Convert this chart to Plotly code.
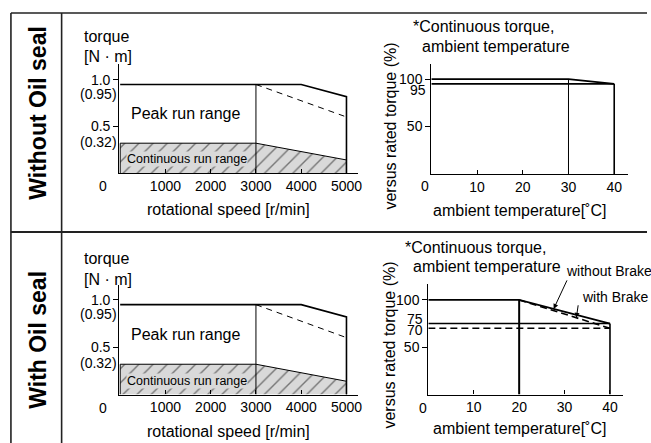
import plotly.graph_objects as go

W, H = 651, 443
FONT = "Liberation Sans, Arial, sans-serif"

# ---- data ----
speed_peak = [0, 4000, 5000, 5000]
torque_peak = [0.95, 0.95, 0.82, 0]
speed_split = [3000, 3000]
torque_split = [0, 0.95]
speed_dash = [3000, 4950]
torque_dash = [0.95, 0.61]
speed_cont = [0, 0, 3000, 5000, 5000]
torque_cont = [0, 0.32, 0.32, 0.14, 0]
speed_ticks = [1000, 2000, 3000, 4000, 5000]
torque_ticks = [1.0, 0.5]
torque_extra = [0.95, 0.32]

# top derating (without oil seal)
temp_top = [0, 30, 40]
pct_top = [100, 100, 95]
temp_top_flat = [0, 40]
pct_top_flat = [95, 95]
# bottom derating (with oil seal)
temp_bot = [0, 20, 40]
pct_bot_nobrake = [100, 100, 75]
pct_bot_brake = [100, 100, 70]
temp_bot_flat = [0, 40]
pct_bot_flat_nobrake = [75, 75]
pct_bot_flat_brake = [70, 70]
temp_ticks = [10, 20, 30, 40]
pct_ticks = [100, 50]

fig = go.Figure()

def px(x):
    return x / W

def py(y):
    return 1 - y / H

def torque_panel(xa, ya):
    k = dict(xaxis=xa, yaxis=ya, mode="lines", showlegend=False, hoverinfo="skip")
    fig.add_trace(go.Scatter(x=speed_cont, y=torque_cont, fill="toself",
                             fillcolor="#d9d9d9",
                             fillpattern=dict(shape="/", fgcolor="#111", bgcolor="#d9d9d9",
                                              size=10, solidity=0.14),
                             line=dict(color="black", width=1), **k))
    fig.add_trace(go.Scatter(x=speed_peak, y=torque_peak, line=dict(color="black", width=1.6), **k))
    fig.add_trace(go.Scatter(x=speed_split, y=torque_split, line=dict(color="black", width=1), **k))
    fig.add_trace(go.Scatter(x=speed_dash, y=torque_dash,
                             line=dict(color="black", width=1, dash="6px,5px"), **k))

def temp_panel_top(xa, ya):
    k = dict(xaxis=xa, yaxis=ya, mode="lines", showlegend=False, hoverinfo="skip")
    fig.add_trace(go.Scatter(x=temp_top, y=pct_top, line=dict(color="black", width=1.6), **k))
    fig.add_trace(go.Scatter(x=temp_top_flat, y=pct_top_flat, line=dict(color="black", width=1.6), **k))
    fig.add_trace(go.Scatter(x=[temp_top[1], temp_top[1]], y=[0, pct_top[1]],
                             line=dict(color="black", width=1), **k))
    fig.add_trace(go.Scatter(x=[temp_top[2], temp_top[2]], y=[0, pct_top[2]],
                             line=dict(color="black", width=1.6), **k))

def temp_panel_bot(xa, ya):
    k = dict(xaxis=xa, yaxis=ya, mode="lines", showlegend=False, hoverinfo="skip")
    fig.add_trace(go.Scatter(x=temp_bot, y=pct_bot_nobrake, line=dict(color="black", width=1.8), **k))
    fig.add_trace(go.Scatter(x=temp_bot[1:], y=pct_bot_brake[1:],
                             line=dict(color="black", width=1.6, dash="7px,4px"), **k))
    fig.add_trace(go.Scatter(x=temp_bot_flat, y=pct_bot_flat_nobrake, line=dict(color="black", width=1.6), **k))
    fig.add_trace(go.Scatter(x=temp_bot_flat, y=pct_bot_flat_brake,
                             line=dict(color="black", width=1.6, dash="7px,4px"), **k))
    fig.add_trace(go.Scatter(x=[temp_bot[1], temp_bot[1]], y=[0, pct_bot_nobrake[1]],
                             line=dict(color="black", width=2), **k))
    fig.add_trace(go.Scatter(x=[temp_bot[2], temp_bot[2]], y=[0, pct_bot_nobrake[2]],
                             line=dict(color="black", width=1.6), **k))

torque_panel("x", "y")
temp_panel_top("x2", "y2")
torque_panel("x3", "y3")
temp_panel_bot("x4", "y4")

TICK = 14
TITLE = 16
tickfont = dict(family=FONT, size=TICK, color="black")
common_x = dict(showgrid=False, zeroline=False, showline=True, linecolor="black", linewidth=1.2,
                ticks="inside", ticklen=4, tickcolor="black", tickfont=tickfont, fixedrange=True)
common_y = dict(showgrid=False, zeroline=False, showline=True, linecolor="black", linewidth=1.2,
                ticks="outside", ticklen=5, tickcolor="black", tickfont=tickfont, fixedrange=True)

layout = dict(
    width=W, height=H, margin=dict(l=0, r=0, t=0, b=0),
    paper_bgcolor="white", plot_bgcolor="rgba(0,0,0,0)",
    font=dict(family=FONT, size=TICK, color="black"),
    showlegend=False,
    xaxis=dict(common_x, domain=[px(120), px(360)], range=[-20, 5250], anchor="y",
               tickvals=speed_ticks),
    yaxis=dict(common_y, domain=[py(173), py(64)], range=[0, 1.17], anchor="x",
               tickvals=torque_ticks, ticktext=["1.0", "0.5"]),
    xaxis2=dict(common_x, domain=[px(434), px(632)], range=[0, 43.04], anchor="y2",
                tickvals=temp_ticks),
    yaxis2=dict(common_y, domain=[py(174), py(64)], range=[0, 116], anchor="x2",
                tickvals=pct_ticks),
    xaxis3=dict(common_x, domain=[px(120), px(360)], range=[-20, 5250], anchor="y3",
                tickvals=speed_ticks),
    yaxis3=dict(common_y, domain=[py(394.5), py(285)], range=[0, 1.158], anchor="x3",
                tickvals=torque_ticks, ticktext=["1.0", "0.5"]),
    xaxis4=dict(common_x, domain=[px(431), px(627)], range=[0, 42.9], anchor="y4",
                tickvals=temp_ticks),
    yaxis4=dict(common_y, domain=[py(394.5), py(284)], range=[0, 116.8], anchor="x4",
                tickvals=pct_ticks),
)
fig.update_layout(**layout)

ann = []
def T(text, x, y, size=TITLE, xanchor="center", yanchor="middle", **kw):
    d = dict(text=text, x=px(x), y=py(y), xref="paper", yref="paper", showarrow=False,
             xanchor=xanchor, yanchor=yanchor, font=dict(family=FONT, size=size, color="black"))
    d.update(kw)
    ann.append(d)

# left row labels
T("<b>Without Oil seal</b>", 38, 113, size=23, textangle=-90)
T("<b>With Oil seal</b>", 38, 340, size=23, textangle=-90)

for dy in [0, 222]:
    T("torque", 83, 36 + dy, size=TITLE, xanchor="left")
    T("[N · m]", 83, 57 + dy, size=TITLE, xanchor="left")
    T("rotational speed [r/min]", 230, 209 + dy, size=TITLE)
    T("0", 104, 186 + dy, size=TICK)

for xr, yr in [("x", "y"), ("x3", "y3")]:
    ann.append(dict(text="(0.95)", x=0, y=torque_extra[0], xref=xr, yref=yr, showarrow=False,
                    xanchor="right", yanchor="middle", xshift=-1, yshift=-9.5,
                    font=dict(family=FONT, size=TICK, color="black")))
    ann.append(dict(text="(0.32)", x=0, y=torque_extra[1], xref=xr, yref=yr, showarrow=False,
                    xanchor="right", yanchor="middle", xshift=-1, yshift=1,
                    font=dict(family=FONT, size=TICK, color="black")))
    ann.append(dict(text="Peak run range", x=1450, y=0.635, xref=xr, yref=yr, showarrow=False,
                    font=dict(family=FONT, size=16, color="black")))
    ann.append(dict(text="Continuous run range", x=1480, y=0.145, xref=xr, yref=yr, showarrow=False,
                    bgcolor="#d9d9d9", borderpad=0,
                    font=dict(family=FONT, size=12.5, color="black")))

# right panels text
T("*Continuous torque,", 414, 27, xanchor="left")
T("ambient temperature", 423, 46, xanchor="left")
T("versus rated torque (%)", 392, 126, textangle=-90)
T("ambient temperature[˚C]", 523, 210)
T("0", 428, 186, size=TICK)
ann.append(dict(text="95", x=0, y=95, xref="x2", yref="y2", showarrow=False, xanchor="right",
                yanchor="middle", xshift=-3, yshift=-6.5, font=dict(family=FONT, size=TICK, color="black")))

T("*Continuous torque,", 405, 247, xanchor="left")
T("ambient temperature", 414, 266, xanchor="left")
T("versus rated torque (%)", 391, 345, textangle=-90)
T("ambient temperature[˚C]", 523, 428)
T("0", 426, 408, size=TICK)
ann.append(dict(text="75", x=0, y=75, xref="x4", yref="y4", showarrow=False, xanchor="right",
                yanchor="middle", xshift=-3, yshift=5, font=dict(family=FONT, size=TICK, color="black")))
ann.append(dict(text="70", x=0, y=70, xref="x4", yref="y4", showarrow=False, xanchor="right",
                yanchor="middle", xshift=-3, yshift=-1.5, font=dict(family=FONT, size=TICK, color="black")))

# brake callouts
T("without Brake", 567, 271, size=TICK, xanchor="left")
T("with Brake", 584, 297, size=TICK, xanchor="left")
ann.append(dict(text="", x=27.6, y=90.5, xref="x4", yref="y4", showarrow=True,
                ax=14, ay=-30, arrowhead=2, arrowsize=1, arrowwidth=1, arrowcolor="black"))
ann.append(dict(text="", x=32.6, y=81.1, xref="x4", yref="y4", showarrow=True,
                ax=2, ay=-14, arrowhead=2, arrowsize=1, arrowwidth=1, arrowcolor="black"))

fig.update_layout(annotations=ann)

shapes = [
    dict(type="line", xref="paper", yref="paper", x0=px(11), x1=1.0, y0=py(13), y1=py(13),
         line=dict(color="#222", width=1.6)),
    dict(type="line", xref="paper", yref="paper", x0=px(11), x1=px(11), y0=py(13), y1=0,
         line=dict(color="#222", width=1.6)),
    dict(type="line", xref="paper", yref="paper", x0=px(62), x1=px(62), y0=py(13), y1=0,
         line=dict(color="#222", width=1.6)),
    dict(type="line", xref="paper", yref="paper", x0=px(11), x1=1.0, y0=py(232), y1=py(232),
         line=dict(color="#222", width=2.2)),
]
fig.update_layout(shapes=shapes)

fig.write_html("out.html")
